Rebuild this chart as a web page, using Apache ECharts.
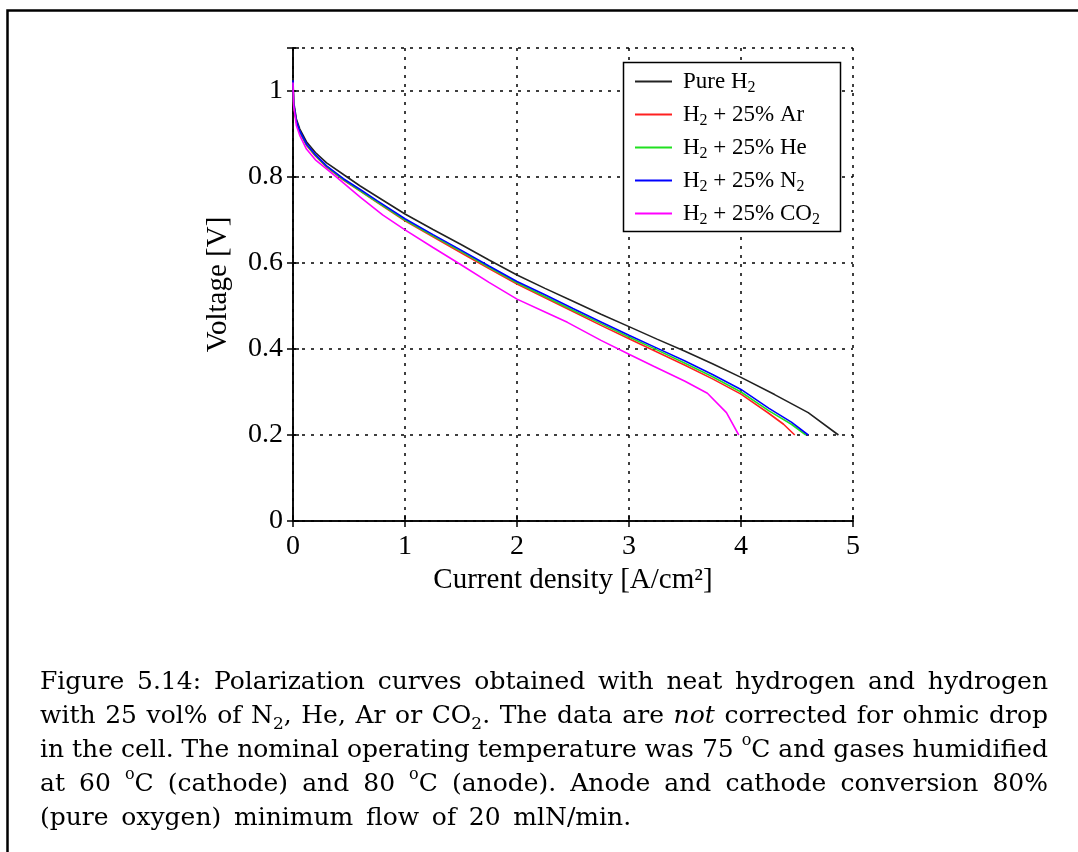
<!DOCTYPE html>
<html><head><meta charset="utf-8">
<script src="https://cdn.jsdelivr.net/npm/echarts@6/dist/echarts.min.js"></script>
<style>html,body{margin:0;padding:0;background:#fff}#c{width:1078px;height:852px}</style>
</head><body><div id="c"></div>
<script>
// ---- tick labels ----
const xTickLabels = ['0', '1', '2', '3', '4', '5'];
const yTickLabels = ['0', '0.2', '0.4', '0.6', '0.8', '1'];

// ---- series ----
const seriesNames = ['Pure H2', 'H2 + 25% Ar', 'H2 + 25% He', 'H2 + 25% N2', 'H2 + 25% CO2'];
const seriesColors = ['#222222', '#ff2020', '#20e020', '#0000ff', '#ff00ff'];

const currentPureH2 = [0, 0.006, 0.03, 0.06, 0.12, 0.2, 0.3, 0.46, 0.6, 0.76, 1.0, 1.25, 1.5, 1.75, 2.0, 2.25, 2.5, 2.75, 3.0, 3.25, 3.5, 3.75, 4.0, 4.3, 4.6, 4.87];
const voltagePureH2 = [1.03, 0.975, 0.935, 0.912, 0.882, 0.857, 0.833, 0.804, 0.779, 0.753, 0.714, 0.678, 0.643, 0.607, 0.572, 0.541, 0.511, 0.481, 0.452, 0.423, 0.395, 0.365, 0.334, 0.294, 0.252, 0.2];

const currentAr = [0, 0.006, 0.03, 0.06, 0.12, 0.2, 0.3, 0.45, 0.6, 0.75, 1.0, 1.25, 1.5, 1.75, 2.0, 2.25, 2.5, 2.75, 3.0, 3.25, 3.5, 3.75, 4.0, 4.25, 4.38, 4.48];
const voltageAr = [1.02, 0.967, 0.927, 0.904, 0.874, 0.849, 0.823, 0.793, 0.767, 0.741, 0.698, 0.661, 0.624, 0.587, 0.551, 0.519, 0.487, 0.455, 0.424, 0.393, 0.362, 0.33, 0.295, 0.25, 0.225, 0.2];

const currentHe = [0, 0.006, 0.03, 0.06, 0.12, 0.2, 0.3, 0.45, 0.6, 0.75, 1.0, 1.25, 1.5, 1.75, 2.0, 2.25, 2.5, 2.75, 3.0, 3.25, 3.5, 3.75, 4.0, 4.25, 4.45, 4.58];
const voltageHe = [1.02, 0.968, 0.928, 0.905, 0.875, 0.85, 0.824, 0.794, 0.768, 0.742, 0.7, 0.663, 0.627, 0.59, 0.554, 0.522, 0.49, 0.459, 0.428, 0.398, 0.367, 0.335, 0.3, 0.256, 0.225, 0.2];

const currentN2 = [0, 0.006, 0.03, 0.06, 0.12, 0.2, 0.3, 0.45, 0.6, 0.75, 1.0, 1.25, 1.5, 1.75, 2.0, 2.25, 2.5, 2.75, 3.0, 3.25, 3.5, 3.75, 4.0, 4.25, 4.45, 4.6];
const voltageN2 = [1.025, 0.97, 0.93, 0.907, 0.877, 0.852, 0.826, 0.796, 0.771, 0.745, 0.703, 0.666, 0.63, 0.593, 0.557, 0.526, 0.494, 0.463, 0.432, 0.402, 0.372, 0.34, 0.306, 0.262, 0.23, 0.2];

const currentCO2 = [0, 0.006, 0.03, 0.06, 0.12, 0.2, 0.37, 0.6, 0.8, 1.0, 1.25, 1.5, 1.75, 2.0, 2.25, 2.45, 2.75, 3.0, 3.22, 3.5, 3.7, 3.87, 3.98];
const voltageCO2 = [1.02, 0.965, 0.92, 0.897, 0.865, 0.84, 0.804, 0.753, 0.712, 0.677, 0.636, 0.596, 0.555, 0.516, 0.486, 0.462, 0.42, 0.388, 0.36, 0.325, 0.297, 0.252, 0.2];

const seriesCurrents = [currentPureH2, currentAr, currentHe, currentN2, currentCO2];
const seriesVoltages = [voltagePureH2, voltageAr, voltageHe, voltageN2, voltageCO2];

// legend labels with subscripts
const legendRich = {
  'Pure H2': '{n|Pure H}{s|2}',
  'H2 + 25% Ar': '{n|H}{s|2}{n| + 25% Ar}',
  'H2 + 25% He': '{n|H}{s|2}{n| + 25% He}',
  'H2 + 25% N2': '{n|H}{s|2}{n| + 25% N}{s|2}',
  'H2 + 25% CO2': '{n|H}{s|2}{n| + 25% CO}{s|2}'
};

// caption (words per line, rich markup for subscripts / italics / degree)
const captionLines = [
  ['Figure', '5.14:', 'Polarization', 'curves', 'obtained', 'with', 'neat', 'hydrogen', 'and', 'hydrogen'],
  ['with', '25', 'vol%', 'of', 'N{s|2},', 'He,', 'Ar', 'or', 'CO{s|2}.', 'The', 'data', 'are', '{i|not}', 'corrected', 'for', 'ohmic', 'drop'],
  ['in', 'the', 'cell.', 'The', 'nominal', 'operating', 'temperature', 'was', '75', '{o|o}C', 'and', 'gases', 'humidified'],
  ['at', '60', '{o|o}C', '(cathode)', 'and', '80', '{o|o}C', '(anode).', 'Anode', 'and', 'cathode', 'conversion', '80%'],
  ['(pure', 'oxygen)', 'minimum', 'flow', 'of', '20', 'mlN/min.']
];

const serif = 'Liberation Serif';
const capFont = 'DejaVu Serif';
const capSize = 25;
const capRich = {
  n: {fontFamily: capFont, fontSize: capSize, lineHeight: 34, fill: '#000'},
  s: {fontFamily: capFont, fontSize: 17, lineHeight: 20, verticalAlign: 'bottom', fill: '#000'},
  o: {fontFamily: capFont, fontSize: 16, lineHeight: 22, verticalAlign: 'top', fill: '#000'},
  i: {fontFamily: capFont, fontSize: capSize, fontStyle: 'italic', lineHeight: 34, fill: '#000'}
};

const chart = echarts.init(document.getElementById('c'));

function measure(t) {
  const el = new echarts.graphic.Text({style: {text: t, rich: capRich, fontFamily: capFont, fontSize: capSize, lineHeight: 34}});
  return el.getBoundingRect().width;
}

const capLeft = 40, capRight = 1048, capTop = 665, capStep = 34;
const spaceW = measure('a a') - measure('aa');
const captionEls = [];
captionLines.forEach((words, li) => {
  const widths = words.map(measure);
  const total = widths.reduce((a, b) => a + b, 0);
  const last = li === captionLines.length - 1;
  const gap = last ? spaceW * 1.6 : (capRight - capLeft - total) / (words.length - 1);
  let x = capLeft;
  words.forEach((w, wi) => {
    captionEls.push({
      type: 'text', x: x, y: capTop + li * capStep, z: 10,
      style: {text: w, rich: capRich, fontFamily: capFont, fontSize: capSize, lineHeight: 34, fill: '#000', verticalAlign: 'top'}
    });
    x += widths[wi] + gap;
  });
});

const axisCommon = {
  type: 'value',
  axisLine: {show: true, lineStyle: {color: '#000', width: 1.5}},
  axisTick: {show: true, inside: true, length: 6, lineStyle: {color: '#000', width: 1.5}}
};

const option = {
  backgroundColor: '#fff',
  animation: false,
  grid: {left: 293, top: 48, right: 225, bottom: 331},
  xAxis: [
    Object.assign({}, axisCommon, {
      min: 0, max: 5, interval: 1, position: 'bottom',
      axisLabel: {fontFamily: serif, fontSize: 28, color: '#000', margin: 12,
        formatter: v => xTickLabels[Math.round(v)]},
      splitLine: {show: true, lineStyle: {color: '#000', type: [3, 6], width: 1.5}},
      name: 'Current density [A/cm²]', nameLocation: 'middle', nameGap: 44,
      nameTextStyle: {fontFamily: serif, fontSize: 29, color: '#000'}
    }),
    Object.assign({}, axisCommon, {
      min: 0, max: 5, interval: 1, position: 'top',
      axisLabel: {show: false}, splitLine: {show: false}
    })
  ],
  yAxis: [
    Object.assign({}, axisCommon, {
      min: 0, max: 1.1, interval: 0.2, position: 'left',
      axisLabel: {fontFamily: serif, fontSize: 28, color: '#000', margin: 10,
        formatter: v => {
          const k = Math.round(v * 5);
          return Math.abs(v * 5 - k) < 1e-6 ? yTickLabels[k] : '';
        }},
      splitLine: {show: true, lineStyle: {color: '#000', type: [3, 6], width: 1.5}},
      name: 'Voltage [V]', nameLocation: 'middle', nameGap: 60, nameRotate: 90,
      nameTextStyle: {fontFamily: serif, fontSize: 29, color: '#000'}
    }),
    Object.assign({}, axisCommon, {
      min: 0, max: 1.1, interval: 0.2, position: 'right',
      axisLabel: {show: false}, splitLine: {show: false}
    })
  ],
  legend: {
    orient: 'vertical', left: 635, top: 70, padding: 0, itemGap: 7.5,
    icon: 'rect', itemWidth: 37, itemHeight: 2,
    data: seriesNames,
    formatter: name => legendRich[name],
    textStyle: {
      padding: [0, 0, 0, 6],
      rich: {
        n: {fontFamily: serif, fontSize: 23, lineHeight: 28, color: '#000'},
        s: {fontFamily: serif, fontSize: 16, lineHeight: 9, verticalAlign: 'bottom', color: '#000'}
      }
    }
  },
  graphic: [
    {type: 'rect', z: 0, shape: {x: 7.5, y: 10.5, width: 1200, height: 1000}, style: {fill: 'none', stroke: '#000', lineWidth: 2.5}},
    {type: 'rect', z: 3, shape: {x: 623.5, y: 62.5, width: 217, height: 169}, style: {fill: '#fff', stroke: '#000', lineWidth: 1.5}}
  ].concat(captionEls),
  series: seriesNames.map((name, i) => ({
    name: name, type: 'line', xAxisIndex: 0, yAxisIndex: 0,
    symbol: 'none', showSymbol: false, smooth: false,
    lineStyle: {color: seriesColors[i], width: 1.6},
    itemStyle: {color: seriesColors[i]},
    data: seriesCurrents[i].map((c, j) => [c, seriesVoltages[i][j]])
  }))
};
chart.setOption(option);
</script>
</body></html>
